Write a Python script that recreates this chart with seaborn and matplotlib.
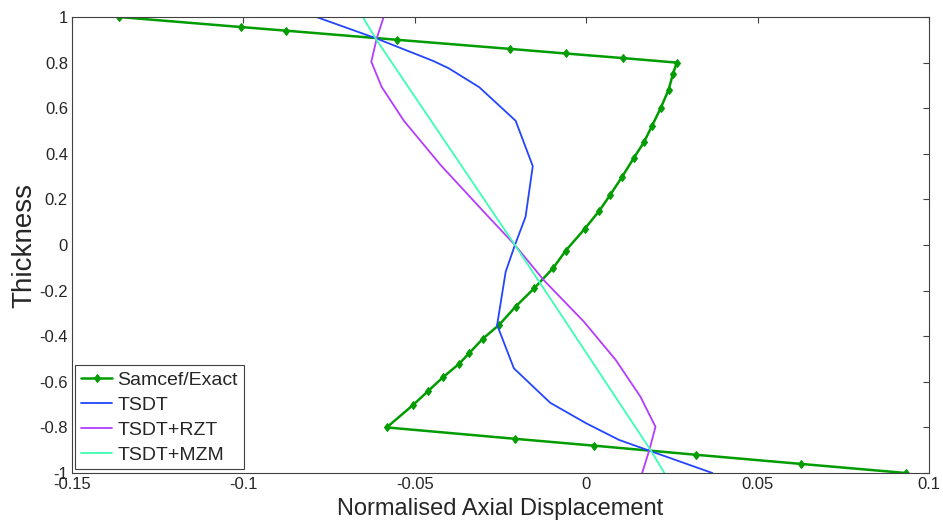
import numpy as np
import pandas as pd
import matplotlib
matplotlib.use("Agg")
import matplotlib.pyplot as plt
import seaborn as sns

# Samcef / exact solution
exact_x = [-0.1363, -0.1007, -0.0875, -0.0551, -0.0221, -0.0060, 0.0106, 0.0264,
           0.0253, 0.0240, 0.0217, 0.0191, 0.0168, 0.0138, 0.0105, 0.0070, 0.0038,
           -0.0005, -0.0060, -0.0096, -0.0152, -0.0206, -0.0254, -0.0301, -0.0342,
           -0.0370, -0.0418, -0.0461, -0.0504, -0.0582,
           -0.0207, 0.0023, 0.0321, 0.0626, 0.0933]
exact_y = [1.0, 0.956, 0.94, 0.90, 0.86, 0.84, 0.82, 0.80,
           0.75, 0.68, 0.60, 0.52, 0.45, 0.38, 0.30, 0.22, 0.15,
           0.07, -0.025, -0.10, -0.19, -0.27, -0.35, -0.41, -0.475,
           -0.52, -0.58, -0.64, -0.70, -0.80,
           -0.85, -0.88, -0.92, -0.96, -1.0]

# TSDT
tsdt_x = [-0.0787, -0.0614, -0.0446, -0.0401, -0.0312, -0.0206, -0.0156, -0.0177,
          -0.0208, -0.0235, -0.0260, -0.0211, -0.0105, 0.0, 0.0096, 0.0184, 0.0368]
tsdt_y = [1.0, 0.907, 0.807, 0.775, 0.692, 0.545, 0.346, 0.124,
          0.0, -0.117, -0.351, -0.541, -0.692, -0.782, -0.855, -0.902, -1.0]

# TSDT+RZT
rzt_x = [-0.0591, -0.0611, -0.0627, -0.0597, -0.0532, -0.0425, -0.0299, -0.0208,
         -0.0124, -0.0007, 0.0086, 0.0158, 0.0202, 0.0184, 0.0163]
rzt_y = [1.0, 0.907, 0.804, 0.694, 0.545, 0.351, 0.146, 0.0,
         -0.154, -0.336, -0.504, -0.665, -0.797, -0.899, -1.0]

# TSDT+MZM
mzm_x = [-0.0652, -0.0612, -0.0208, 0.0188, 0.0228]
mzm_y = [1.0, 0.9, 0.0, -0.9, -1.0]

sns.set_style("white")
plt.rcParams['font.family'] = ['Liberation Sans', 'DejaVu Sans']

fig = plt.figure(figsize=(9.43, 5.25), dpi=100)
ax = fig.add_axes([0.0764, 0.099, 0.9088, 0.8686])

df_exact = pd.DataFrame({'x': exact_x, 'y': exact_y})
df_tsdt = pd.DataFrame({'x': tsdt_x, 'y': tsdt_y})
df_rzt = pd.DataFrame({'x': rzt_x, 'y': rzt_y})
df_mzm = pd.DataFrame({'x': mzm_x, 'y': mzm_y})

sns.lineplot(data=df_exact, x='x', y='y', sort=False, estimator=None, ax=ax,
             color='#009c00', linewidth=1.8, marker='d', markersize=4.5,
             markeredgecolor='#009c00', label='Samcef/Exact')
sns.lineplot(data=df_tsdt, x='x', y='y', sort=False, estimator=None, ax=ax,
             color='#2445ff', linewidth=1.3, label='TSDT')
sns.lineplot(data=df_rzt, x='x', y='y', sort=False, estimator=None, ax=ax,
             color='#b43cff', linewidth=1.3, label='TSDT+RZT')
sns.lineplot(data=df_mzm, x='x', y='y', sort=False, estimator=None, ax=ax,
             color='#3cffb4', linewidth=1.3, label='TSDT+MZM')

ax.set_xlim(-0.15, 0.1)
ax.set_ylim(-1, 1)
ax.set_xticks([-0.15, -0.1, -0.05, 0, 0.05, 0.1])
ax.set_xticklabels(['-0.15', '-0.1', '-0.05', '0', '0.05', '0.1'])
ax.set_yticks(np.round(np.arange(-1, 1.01, 0.2), 1))
ax.set_yticklabels(['-1', '-0.8', '-0.6', '-0.4', '-0.2', '0', '0.2', '0.4', '0.6', '0.8', '1'])
ax.tick_params(direction='in', length=4, width=0.8, color='#404040',
               top=True, right=True, labelsize=12, pad=3)
for s in ax.spines.values():
    s.set_color('#404040')
    s.set_linewidth(0.8)

ax.set_xlabel('Normalised Axial Displacement', fontsize=17, labelpad=4)
ax.set_ylabel('Thickness', fontsize=20, labelpad=1)

leg = ax.legend(loc='lower left', bbox_to_anchor=(0.004, 0.008), fontsize=14,
                frameon=True, fancybox=False, framealpha=1, edgecolor='#404040',
                handlelength=1.6, handletextpad=0.25, labelspacing=0.38,
                borderpad=0.3, borderaxespad=0)
leg.get_frame().set_linewidth(0.8)

fig.savefig('out.png', dpi=100)
